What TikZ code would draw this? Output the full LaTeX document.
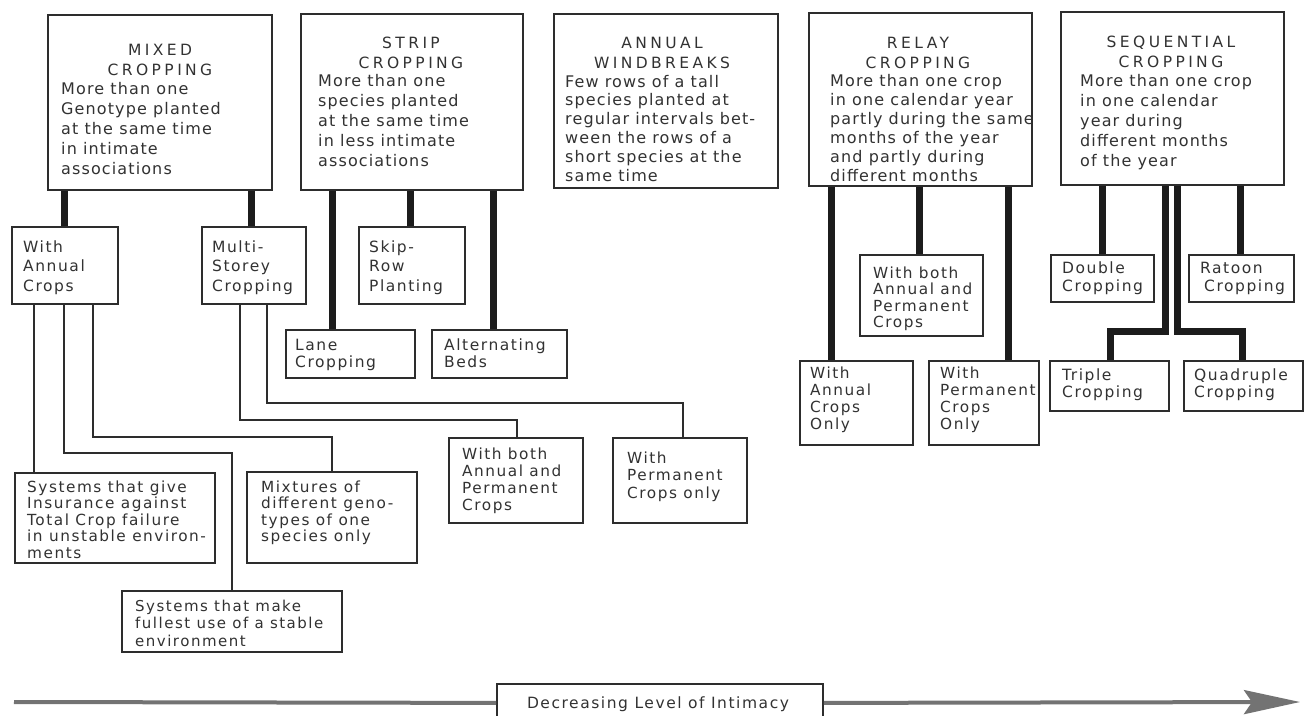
\documentclass[tikz,border=0pt]{standalone}
\usepackage{fontspec}
\setmainfont{DejaVu Sans}
\newfontfamily\bodyfont{DejaVu Sans}[LetterSpace=10]
\newfontfamily\topfont{DejaVu Sans}[LetterSpace=7]
\newfontfamily\titlefont{DejaVu Sans}[LetterSpace=22]
\usetikzlibrary{arrows.meta}
\definecolor{ink}{RGB}{50,50,50}
\definecolor{edge}{RGB}{45,45,45}
\definecolor{heavyc}{RGB}{28,28,28}
\definecolor{axisc}{RGB}{115,115,115}
\newcommand\mkbox[5]{\node[box, minimum width={#4-#2}, minimum height={#5-#3}] (#1) at (#2,#3) {};}
\newcommand\tbox[6]{\node[body, font={\bodyfont\fontsize{#4}{#5}\selectfont}] (#1) at (#2,#3) {\parbox[t]{260pt}{\raggedright #6}};}
\newcommand\topbox[5]{\node[body, font={\topfont\fontsize{16}{#4}\selectfont}] (#1) at (#2,#3) {\parbox[t]{260pt}{\raggedright #5}};}
\newcommand\ttl[4]{\node[ttlstyle] (#1) at (#2,#3) {\parbox[t]{220pt}{\centering #4}};}
\begin{document}
\begin{tikzpicture}[x=1pt,y=-1pt,
  box/.style={draw=edge, line width=1.8pt, fill=white, inner sep=0pt, anchor=north west},
  body/.style={inner sep=0pt, anchor=base west, text=ink},
  ttlstyle/.style={inner sep=0pt, anchor=base, text=ink, font={\titlefont\fontsize{15.5}{20}\selectfont}},
  heavy/.style={draw=heavyc, line width=7pt},
  thinc/.style={draw=edge, line width=2.4pt},
  axis/.style={draw=axisc, line width=4pt}]
\fill[white] (0,0) rectangle (1309,715);
\useasboundingbox (0,0) rectangle (1309,715);

% top boxes
\mkbox{mixed}{47}{14}{271}{189}
\mkbox{strip}{300}{13}{522}{189}
\mkbox{annual}{553}{13}{777}{187}
\mkbox{relay}{808}{12}{1031}{185}
\mkbox{seq}{1060}{11}{1283}{184}

\ttl{mixed-title}{160}{55.5}{MIXED\\CROPPING}
\ttl{strip-title}{411}{48.5}{STRIP\\CROPPING}
\ttl{annual-title}{662}{48.5}{ANNUAL\\WINDBREAKS}
\ttl{relay-title}{918}{48.5}{RELAY\\CROPPING}
\ttl{seq-title}{1171}{47.5}{SEQUENTIAL\\CROPPING}

\topbox{mixed-body}{61}{94}{20}{More than one\\Genotype planted\\at the same time\\in intimate\\associations}
\topbox{strip-body}{318}{86}{20}{More than one\\species planted\\at the same time\\in less intimate\\associations}
\topbox{annual-body}{565}{87}{18.8}{Few rows of a tall\\species planted at\\regular intervals bet-\\ween the rows of a\\short species at the\\same time}
\topbox{relay-body}{830}{86}{19}{More than one crop\\in one calendar year\\partly during the same\\months of the year\\and partly during\\different months}
\topbox{seq-body}{1080}{86}{20}{More than one crop\\in one calendar\\year during\\different months\\of the year}

% second level
\mkbox{wannual}{11}{226}{117}{303}
\mkbox{multi}{201}{226}{305}{303}
\mkbox{skip}{358}{226}{464}{303}
\mkbox{lane}{285}{329}{414}{377}
\mkbox{alt}{431}{329}{566}{377}
\mkbox{give}{14}{472}{214}{562}
\mkbox{mixt}{246}{471}{416}{562}
\mkbox{make}{121}{590}{341}{651}
\mkbox{both}{448}{437}{582}{522}
\mkbox{permonly}{612}{437}{746}{522}
\mkbox{rboth}{859}{254}{982}{335}
\mkbox{rannual}{799}{360}{912}{444}
\mkbox{rperm}{928}{360}{1038}{444}
\mkbox{double}{1050}{254}{1153}{301}
\mkbox{ratoon}{1188}{254}{1293}{301}
\mkbox{triple}{1049}{360}{1168}{410}
\mkbox{quad}{1183}{360}{1302}{410}

\tbox{wannual-t}{23}{252}{15.5}{19.5}{With\\Annual\\Crops}
\tbox{multi-t}{212}{252}{15.5}{19.5}{Multi-\\Storey\\Cropping}
\tbox{skip-t}{369}{252}{15.5}{19.5}{Skip-\\Row\\Planting}
\tbox{lane-t}{295}{350}{15.5}{17}{Lane\\Cropping}
\tbox{alt-t}{444}{350}{15.5}{17}{Alternating\\Beds}
\tbox{give-t}{27}{492}{15.3}{16.5}{Systems that give\\Insurance against\\Total Crop failure\\in unstable environ-\\ments}
\tbox{mixt-t}{261}{492}{15.3}{16.5}{Mixtures of\\different geno-\\types of one\\species only}
\tbox{make-t}{135}{611}{15}{17.5}{Systems that make\\fullest use of a stable\\environment}
\tbox{both-t}{462}{459}{15.3}{17.3}{With both\\Annual and\\Permanent\\Crops}
\tbox{permonly-t}{627}{463}{15.3}{17.5}{With\\Permanent\\Crops only}
\tbox{rboth-t}{873}{278}{15.3}{16.5}{With both\\Annual and\\Permanent\\Crops}
\tbox{rannual-t}{810}{378}{15.3}{17.3}{With\\Annual\\Crops\\Only}
\tbox{rperm-t}{940}{378}{15.3}{17.3}{With\\Permanent\\Crops\\Only}
\tbox{double-t}{1062}{273}{15.5}{18}{Double\\Cropping}
\tbox{ratoon-t}{1200}{273}{15.5}{18}{Ratoon\\\hspace*{4pt}Cropping}
\tbox{triple-t}{1062}{380}{15.5}{17}{Triple\\Cropping}
\tbox{quad-t}{1194}{380}{15.5}{17}{Quadruple\\Cropping}

% heavy connectors
\draw[heavy] (mixed.south -| 64,0) -- (wannual.north -| 64,0);
\draw[heavy] (mixed.south -| 251,0) -- (multi.north -| 251,0);
\draw[heavy] (strip.south -| 332,0) -- (lane.north -| 332,0);
\draw[heavy] (strip.south -| 410,0) -- (skip.north -| 410,0);
\draw[heavy] (strip.south -| 493,0) -- (alt.north -| 493,0);
\draw[heavy] (relay.south -| 831,0) -- (rannual.north -| 831,0);
\draw[heavy] (relay.south -| 919,0) -- (rboth.north -| 919,0);
\draw[heavy] (relay.south -| 1008,0) -- (rperm.north -| 1008,0);
\draw[heavy] (seq.south -| 1102,0) -- (double.north -| 1102,0);
\draw[heavy] (seq.south -| 1240,0) -- (ratoon.north -| 1240,0);
\draw[heavy] (seq.south -| 1165,0) |- (1110,331) -- (triple.north -| 1110,0);
\draw[heavy] (seq.south -| 1177,0) |- (1242,331) -- (quad.north -| 1242,0);

% thin connectors
\draw[thinc] (wannual.south -| 34,0) -- (give.north -| 34,0);
\draw[thinc] (wannual.south -| 64,0) |- (232,453) -- (make.north -| 232,0);
\draw[thinc] (wannual.south -| 93,0) |- (332,437) -- (mixt.north -| 332,0);
\draw[thinc] (multi.south -| 240,0) |- (517,420) -- (both.north -| 517,0);
\draw[thinc] (multi.south -| 267,0) |- (683,403) -- (permonly.north -| 683,0);

% axis
\node[box, minimum width=326, minimum height=38] (decr) at (496,683) {};
\node[body, anchor=base, font={\bodyfont\fontsize{15.5}{18}\selectfont}] (decr-t) at (658,708) {Decreasing Level of Intimacy};
\coordinate (axstart) at (14,702);
\coordinate (axend) at (1300,702);
\draw[axis] (axstart) -- (decr.west);
\draw[axis, -{Stealth[length=56pt, width=24pt, inset=8pt]}] (decr.east) -- (axend);
\end{tikzpicture}
\end{document}
